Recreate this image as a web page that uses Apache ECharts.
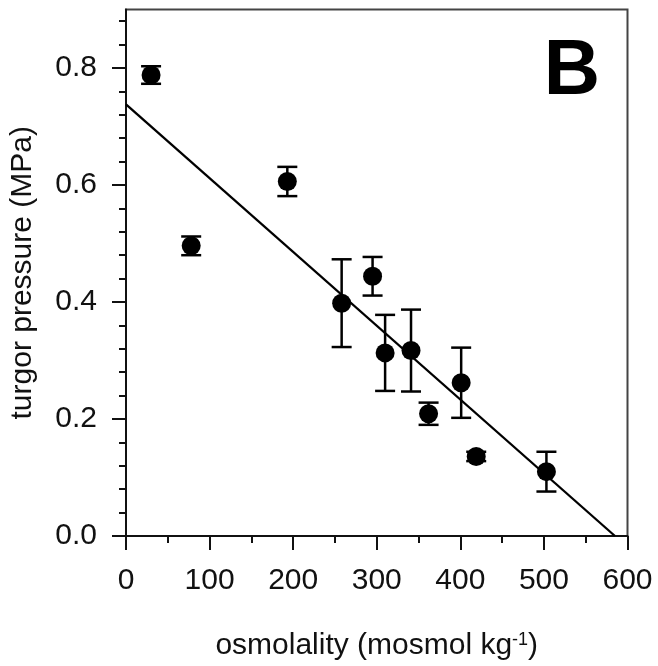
<!DOCTYPE html>
<html>
<head>
<meta charset="utf-8">
<script src="https://cdn.jsdelivr.net/npm/echarts@6/dist/echarts.min.js"></script>
<style>
  html, body { margin: 0; padding: 0; background: #fff; }
  #chart { width: 658px; height: 666px; }
</style>
</head>
<body>
<div id="chart"></div>
<script>
// Data
var osmolality = [30, 78, 193, 258, 295, 310, 341, 362, 401, 419, 503];
var turgor     = [0.788, 0.496, 0.606, 0.398, 0.444, 0.313, 0.317, 0.209, 0.262, 0.136, 0.110];
var turgorErr  = [0.015, 0.016, 0.025, 0.075, 0.033, 0.065, 0.070, 0.019, 0.060, 0.008, 0.034];

// Regression line end points
var fitX = [0, 585];
var fitY = [0.738, 0];

// Tick values
var xMajorTicks = [0, 100, 200, 300, 400, 500, 600];
var yMajorTicks = [0, 0.2, 0.4, 0.6, 0.8];
var yMinorTicks = [0.04, 0.08, 0.12, 0.16, 0.24, 0.28, 0.32, 0.36, 0.44, 0.48, 0.52, 0.56, 0.64, 0.68, 0.72, 0.76, 0.84, 0.88];

var panelLabel = 'B';
var xTitle = 'osmolality (mosmol kg{sup|-1})';
var yTitle = 'turgor pressure (MPa)';

var FONT = 'Liberation Sans, Arial, sans-serif';

var points = osmolality.map(function (x, i) { return [x, turgor[i]]; });
var errData = osmolality.map(function (x, i) { return [x, turgor[i] - turgorErr[i], turgor[i] + turgorErr[i]]; });
var fitData = fitX.map(function (x, i) { return [x, fitY[i]]; });

var chart = echarts.init(document.getElementById('chart'), null, { renderer: 'canvas' });

chart.setOption({
  animation: false,
  backgroundColor: '#fff',
  grid: {
    left: 124.5, right: 30.5, top: 9.5, bottom: 129.5,
    show: true, borderColor: '#444', borderWidth: 2, backgroundColor: 'transparent'
  },
  xAxis: {
    type: 'value', min: 0, max: 600, interval: 100,
    name: xTitle, nameLocation: 'middle', nameGap: 95,
    nameTextStyle: {
      fontFamily: FONT, fontSize: 30, color: '#111',
      rich: { sup: { fontFamily: FONT, fontSize: 18, color: '#111', verticalAlign: 'top' } }
    },
    axisLine: { show: true, lineStyle: { color: '#111', width: 2 } },
    axisTick: { show: true, inside: false, length: 14, lineStyle: { color: '#111', width: 2 }, customValues: xMajorTicks },
    minorTick: { show: true, splitNumber: 2, length: 7, lineStyle: { color: '#111', width: 2 } },
    axisLabel: { fontFamily: FONT, fontSize: 30, color: '#111', margin: 30, customValues: xMajorTicks },
    splitLine: { show: false },
    minorSplitLine: { show: false }
  },
  yAxis: [{
    type: 'value', min: 0, max: 0.9, position: 'left', offset: 0,
    name: yTitle, nameLocation: 'middle', nameGap: 88, nameRotate: 90,
    nameTextStyle: { fontFamily: FONT, fontSize: 30, color: '#111' },
    axisLine: { show: true, lineStyle: { color: '#111', width: 2 } },
    axisTick: { show: true, inside: false, length: 14, lineStyle: { color: '#111', width: 2 }, customValues: yMajorTicks },
    axisLabel: {
      fontFamily: FONT, fontSize: 30, color: '#111', margin: 29, customValues: yMajorTicks,
      formatter: function (v) { return v.toFixed(1); }
    },
    splitLine: { show: false }
  }, {
    type: 'value', min: 0, max: 0.9, position: 'left', offset: 0,
    axisLine: { show: false },
    axisTick: { show: true, inside: false, length: 7, lineStyle: { color: '#111', width: 2 }, customValues: yMinorTicks },
    axisLabel: { show: false },
    splitLine: { show: false }
  }],
  graphic: [{
    type: 'text', x: 572, y: 72,
    style: { text: panelLabel, font: 'bold 78px ' + FONT, fill: '#000', textAlign: 'center', textVerticalAlign: 'middle' }
  }],
  series: [{
    type: 'line', data: fitData, showSymbol: false, symbol: 'none',
    lineStyle: { color: '#000', width: 2.3 }, z: 2, silent: true
  }, {
    type: 'custom', data: errData, z: 3, silent: true,
    renderItem: function (params, api) {
      var x = api.value(0);
      var lo = api.coord([x, api.value(1)]);
      var hi = api.coord([x, api.value(2)]);
      var cap = 10;
      var st = { stroke: '#000', lineWidth: 2.5 };
      return {
        type: 'group',
        children: [
          { type: 'line', shape: { x1: lo[0], y1: lo[1], x2: hi[0], y2: hi[1] }, style: st },
          { type: 'line', shape: { x1: lo[0] - cap, y1: lo[1], x2: lo[0] + cap, y2: lo[1] }, style: st },
          { type: 'line', shape: { x1: hi[0] - cap, y1: hi[1], x2: hi[0] + cap, y2: hi[1] }, style: st }
        ]
      };
    }
  }, {
    type: 'scatter', data: points, symbol: 'circle', symbolSize: 19,
    itemStyle: { color: '#000', opacity: 1 }, z: 4, silent: true
  }]
});
</script>
</body>
</html>
